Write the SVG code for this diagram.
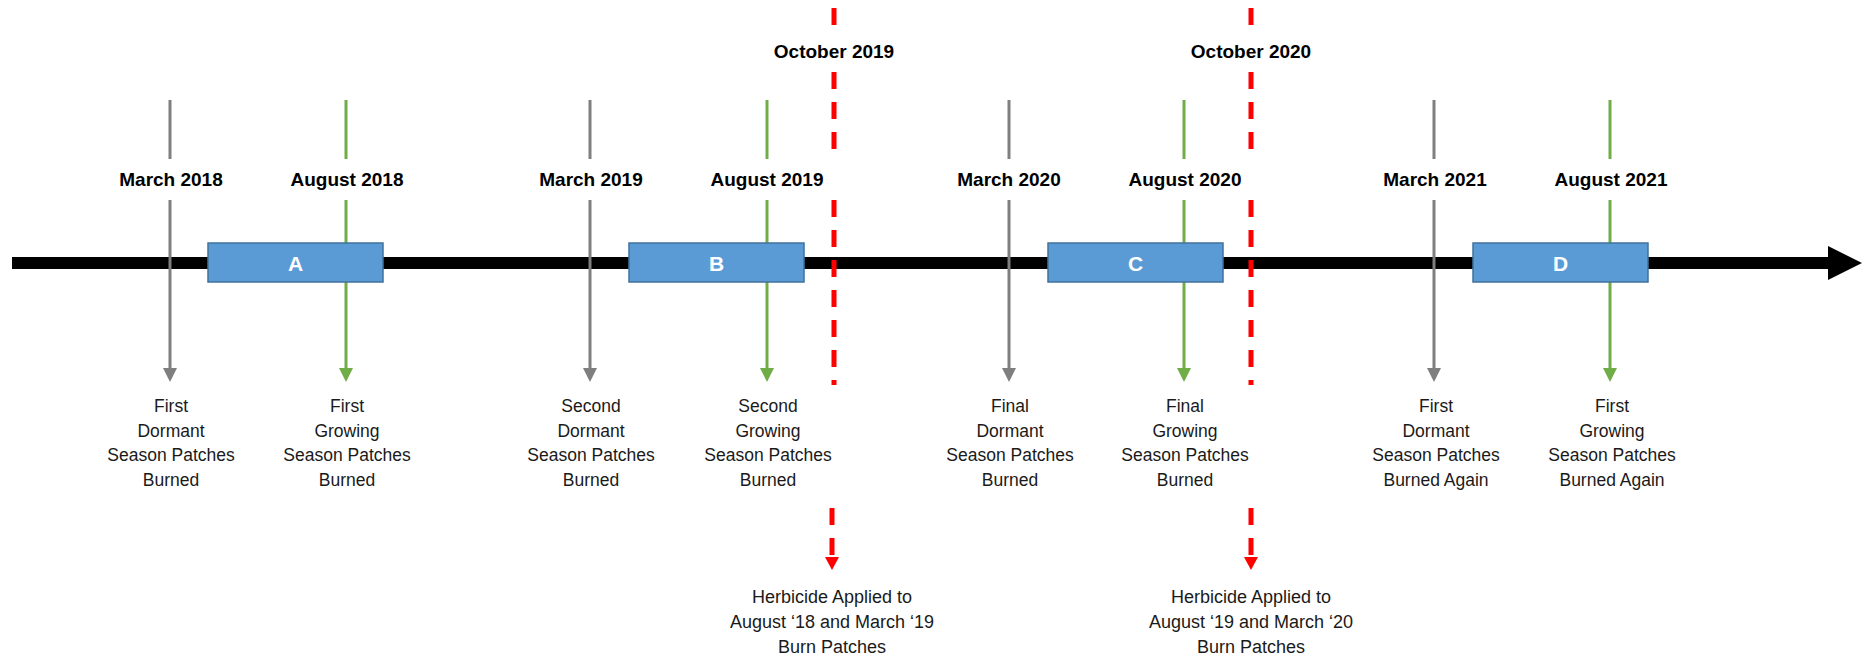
<svg xmlns="http://www.w3.org/2000/svg" width="1872" height="658" viewBox="0 0 1872 658">
<style>
.lbl{font-family:"Liberation Sans",Arial,sans-serif;font-weight:bold;font-size:19px;fill:#000;text-anchor:middle}
.desc{font-family:"Liberation Sans",Arial,sans-serif;font-size:17.5px;fill:#1a1a1a;text-anchor:middle}
.herb{font-size:18px}
.box{fill:#5B9BD5;stroke:#41719C;stroke-width:1.5}
.boxt{font-family:"Liberation Sans",Arial,sans-serif;font-weight:bold;font-size:21px;fill:#fff;text-anchor:middle}
.gray{stroke:#7F7F7F;stroke-width:3;fill:none}
.green{stroke:#70AD47;stroke-width:3;fill:none}
.red{stroke:#FF0000;stroke-width:5;fill:none;stroke-dasharray:17 13}
</style>
<rect width="1872" height="658" fill="#fff"/>
<g id="connectors">
<rect x="12" y="257" width="1818" height="12" fill="#000"/>
<polygon points="1828,246 1862,263 1828,280" fill="#000"/>
<g class="gray">
<line x1="170" y1="100" x2="170" y2="159"/><line x1="170" y1="200" x2="170" y2="369"/>
<line x1="590" y1="100" x2="590" y2="159"/><line x1="590" y1="200" x2="590" y2="369"/>
<line x1="1009" y1="100" x2="1009" y2="159"/><line x1="1009" y1="200" x2="1009" y2="369"/>
<line x1="1434" y1="100" x2="1434" y2="159"/><line x1="1434" y1="200" x2="1434" y2="369"/>
</g>
<g fill="#7F7F7F">
<polygon points="163,368 177,368 170,382"/>
<polygon points="583,368 597,368 590,382"/>
<polygon points="1002,368 1016,368 1009,382"/>
<polygon points="1427,368 1441,368 1434,382"/>
</g>
<g class="green">
<line x1="346" y1="100" x2="346" y2="159"/><line x1="346" y1="200" x2="346" y2="369"/>
<line x1="767" y1="100" x2="767" y2="159"/><line x1="767" y1="200" x2="767" y2="369"/>
<line x1="1184" y1="100" x2="1184" y2="159"/><line x1="1184" y1="200" x2="1184" y2="369"/>
<line x1="1610" y1="100" x2="1610" y2="159"/><line x1="1610" y1="200" x2="1610" y2="369"/>
</g>
<g fill="#70AD47">
<polygon points="339,368 353,368 346,382"/>
<polygon points="760,368 774,368 767,382"/>
<polygon points="1177,368 1191,368 1184,382"/>
<polygon points="1603,368 1617,368 1610,382"/>
</g>
<g class="red">
<line x1="834" y1="8" x2="834" y2="25"/><line x1="834" y1="72" x2="834" y2="150"/><line x1="834" y1="200" x2="834" y2="385"/>
<line x1="1251" y1="8" x2="1251" y2="25"/><line x1="1251" y1="72" x2="1251" y2="150"/><line x1="1251" y1="200" x2="1251" y2="385"/>
<line x1="832" y1="508" x2="832" y2="558"/>
<line x1="1251" y1="508" x2="1251" y2="558"/>
</g>
<g fill="#FF0000">
<polygon points="825,557 839,557 832,570"/>
<polygon points="1244,557 1258,557 1251,570"/>
</g>
</g>
<g id="boxA"><rect class="box" x="208" y="243" width="175" height="39"/><text class="boxt" x="295.5" y="271">A</text></g>
<g id="boxB"><rect class="box" x="629" y="243" width="175" height="39"/><text class="boxt" x="716.5" y="271">B</text></g>
<g id="boxC"><rect class="box" x="1048" y="243" width="175" height="39"/><text class="boxt" x="1135.5" y="271">C</text></g>
<g id="boxD"><rect class="box" x="1473" y="243" width="175" height="39"/><text class="boxt" x="1560.5" y="271">D</text></g>
<g id="mar2018"><text class="lbl" x="171" y="186">March 2018</text>
<text class="desc"><tspan x="171" y="412">First</tspan><tspan x="171" y="436.5">Dormant</tspan><tspan x="171" y="461">Season Patches</tspan><tspan x="171" y="485.5">Burned</tspan></text></g>
<g id="aug2018"><text class="lbl" x="347" y="186">August 2018</text>
<text class="desc"><tspan x="347" y="412">First</tspan><tspan x="347" y="436.5">Growing</tspan><tspan x="347" y="461">Season Patches</tspan><tspan x="347" y="485.5">Burned</tspan></text></g>
<g id="mar2019"><text class="lbl" x="591" y="186">March 2019</text>
<text class="desc"><tspan x="591" y="412">Second</tspan><tspan x="591" y="436.5">Dormant</tspan><tspan x="591" y="461">Season Patches</tspan><tspan x="591" y="485.5">Burned</tspan></text></g>
<g id="aug2019"><text class="lbl" x="767" y="186">August 2019</text>
<text class="desc"><tspan x="768" y="412">Second</tspan><tspan x="768" y="436.5">Growing</tspan><tspan x="768" y="461">Season Patches</tspan><tspan x="768" y="485.5">Burned</tspan></text></g>
<g id="oct2019"><text class="lbl" x="834" y="58">October 2019</text>
<text class="desc herb"><tspan x="832" y="603">Herbicide Applied to</tspan><tspan x="832" y="628">August ‘18 and March ‘19</tspan><tspan x="832" y="653">Burn Patches</tspan></text></g>
<g id="mar2020"><text class="lbl" x="1009" y="186">March 2020</text>
<text class="desc"><tspan x="1010" y="412">Final</tspan><tspan x="1010" y="436.5">Dormant</tspan><tspan x="1010" y="461">Season Patches</tspan><tspan x="1010" y="485.5">Burned</tspan></text></g>
<g id="aug2020"><text class="lbl" x="1185" y="186">August 2020</text>
<text class="desc"><tspan x="1185" y="412">Final</tspan><tspan x="1185" y="436.5">Growing</tspan><tspan x="1185" y="461">Season Patches</tspan><tspan x="1185" y="485.5">Burned</tspan></text></g>
<g id="oct2020"><text class="lbl" x="1251" y="58">October 2020</text>
<text class="desc herb"><tspan x="1251" y="603">Herbicide Applied to</tspan><tspan x="1251" y="628">August ‘19 and March ‘20</tspan><tspan x="1251" y="653">Burn Patches</tspan></text></g>
<g id="mar2021"><text class="lbl" x="1435" y="186">March 2021</text>
<text class="desc"><tspan x="1436" y="412">First</tspan><tspan x="1436" y="436.5">Dormant</tspan><tspan x="1436" y="461">Season Patches</tspan><tspan x="1436" y="485.5">Burned Again</tspan></text></g>
<g id="aug2021"><text class="lbl" x="1611" y="186">August 2021</text>
<text class="desc"><tspan x="1612" y="412">First</tspan><tspan x="1612" y="436.5">Growing</tspan><tspan x="1612" y="461">Season Patches</tspan><tspan x="1612" y="485.5">Burned Again</tspan></text></g>
</svg>
